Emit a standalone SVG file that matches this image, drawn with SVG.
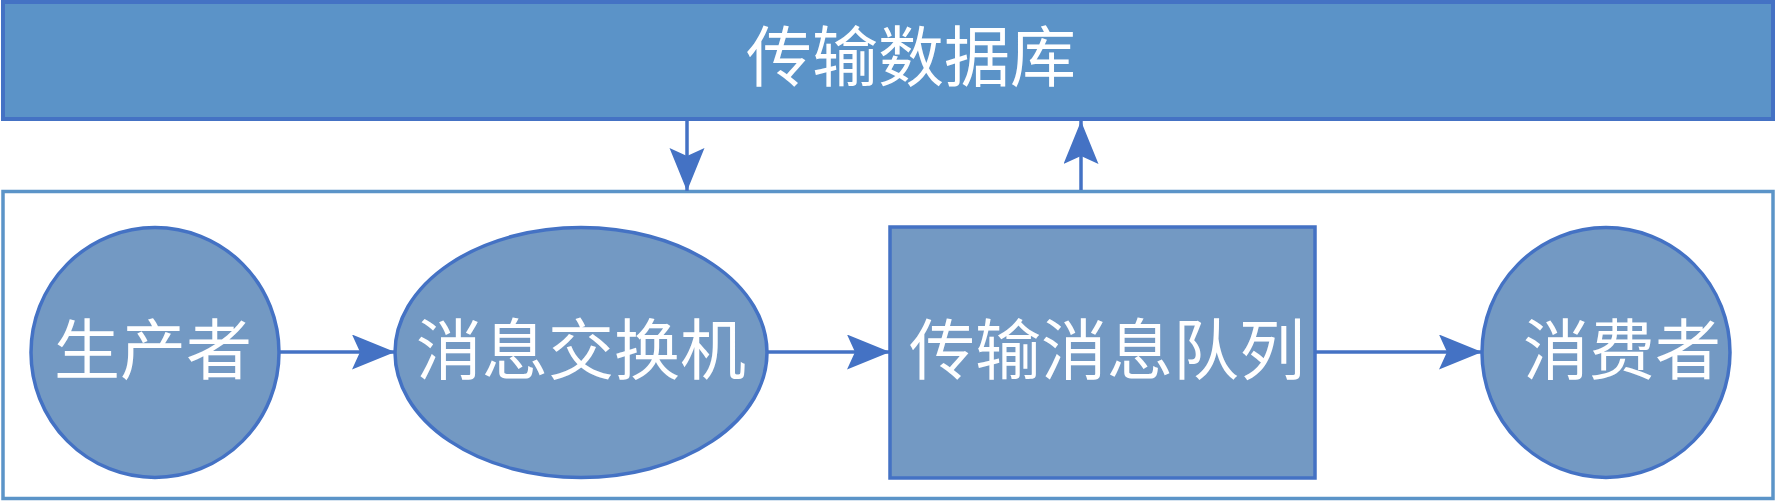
<svg xmlns="http://www.w3.org/2000/svg" width="1776" height="501" viewBox="0 0 1776 501">
<style>
.node{fill:#7399C3;stroke:#4472C4;stroke-width:3.5}
.lbl{fill:#FFFFFF;font-family:"Noto Sans CJK SC","Noto Sans CJK JP",sans-serif;font-size:66px;text-anchor:middle}
.conn{stroke:#4472C4;stroke-width:3.5;fill:none;marker-end:url(#arr)}
</style>
<defs>
<marker id="arr" markerUnits="userSpaceOnUse" markerWidth="44" markerHeight="36" refX="43" refY="17.5" orient="auto">
<path d="M0,0 L43,17.5 L0,35 L8,17.5 Z" fill="#4472C4"/>
</marker>
</defs>
<rect width="1776" height="501" fill="#FFFFFF"/>
<g id="container">
<rect x="3" y="191.5" width="1770" height="307" fill="#FFFFFF" stroke="#5B94C8" stroke-width="3.5"/>
</g>
<g id="database">
<rect x="3" y="2" width="1770" height="117" fill="#5B93C8" stroke="#4472C4" stroke-width="4"/>
<text class="lbl" x="911" y="81">传输数据库</text>
</g>
<g id="producer">
<ellipse class="node" cx="155" cy="352.5" rx="124" ry="125"/>
<text class="lbl" x="153" y="374">生产者</text>
</g>
<g id="exchange">
<ellipse class="node" cx="581" cy="352.5" rx="186" ry="125"/>
<text class="lbl" x="581" y="374">消息交换机</text>
</g>
<g id="queue">
<rect class="node" x="890" y="227" width="425" height="251"/>
<text class="lbl" x="1107" y="374">传输消息队列</text>
</g>
<g id="consumer">
<ellipse class="node" cx="1606" cy="352.5" rx="124" ry="125"/>
<text class="lbl" x="1622" y="374">消费者</text>
</g>
<g id="connectors">
<line class="conn" x1="687" y1="121" x2="687" y2="191"/>
<line class="conn" x1="1081" y1="190" x2="1081" y2="121"/>
<line class="conn" x1="280" y1="352" x2="395" y2="352"/>
<line class="conn" x1="767" y1="352" x2="890" y2="352"/>
<line class="conn" x1="1315" y1="352" x2="1482" y2="352"/>
</g>
</svg>
